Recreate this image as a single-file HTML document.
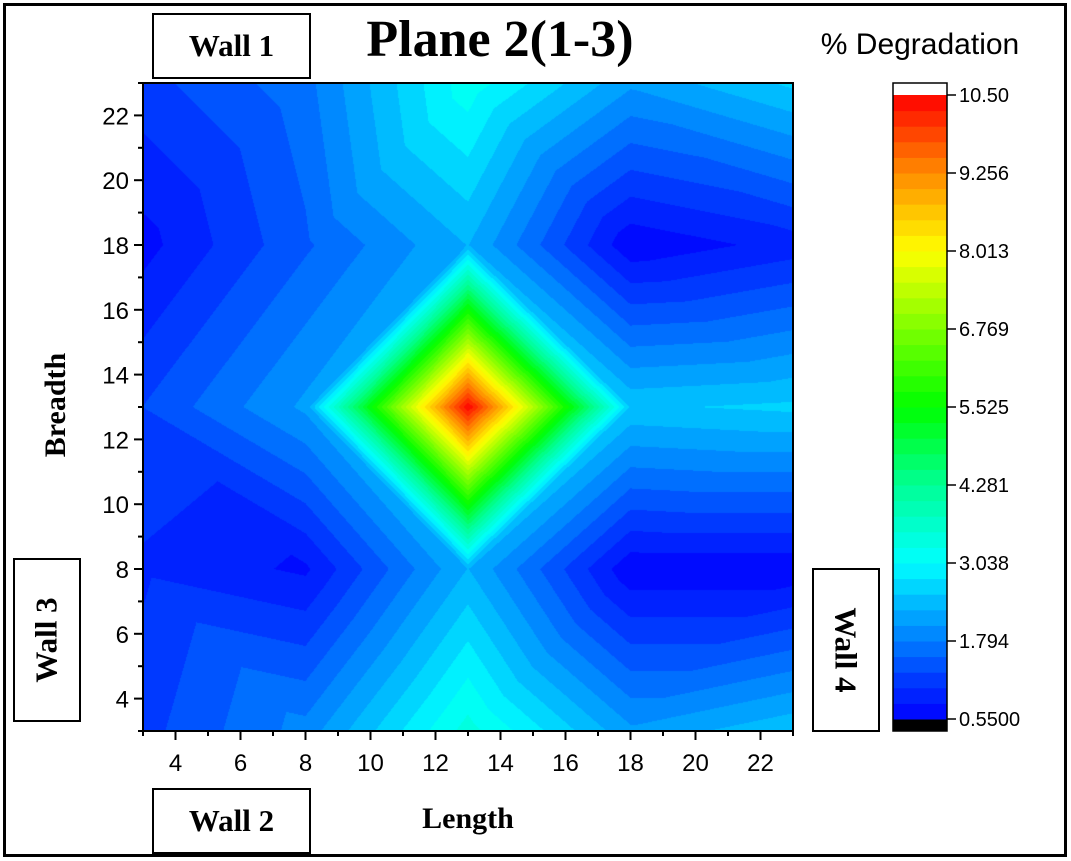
<!DOCTYPE html>
<html><head><meta charset="utf-8"><style>
body{margin:0;background:#fff;width:1071px;height:861px;overflow:hidden;position:relative;font-family:"Liberation Sans",sans-serif}
.abs{position:absolute}
.box{position:absolute;border:2px solid #000;background:#fff;font-family:"Liberation Serif",serif;font-weight:bold;font-size:31px;display:flex;align-items:center;justify-content:center}
</style></head><body>
<div class="abs" style="left:3px;top:3px;width:1058px;height:848px;border:3px solid #000"></div>
<div class="abs" style="left:320px;top:10px;width:360px;text-align:center;font-family:'Liberation Serif',serif;font-weight:bold;font-size:52px">Plane 2(1-3)</div>
<div class="box" style="left:152px;top:13px;width:155px;height:62px">Wall 1</div>
<div class="box" style="left:152px;top:788px;width:155px;height:62px">Wall 2</div>
<div class="box" style="left:13px;top:558px;width:64px;height:160px"><span style="transform:rotate(-90deg);white-space:nowrap">Wall 3</span></div>
<div class="box" style="left:812px;top:568px;width:64px;height:160px"><span style="transform:rotate(90deg);white-space:nowrap">Wall 4</span></div>
<div class="abs" style="left:795px;top:28px;width:250px;text-align:center;font-size:30px">% Degradation</div>
<div class="abs" style="left:368px;top:802px;width:200px;text-align:center;font-family:'Liberation Serif',serif;font-weight:bold;font-size:30px">Length</div>
<div class="abs" style="left:-44px;top:388px;width:200px;text-align:center;font-family:'Liberation Serif',serif;font-weight:bold;font-size:30px;transform:rotate(-90deg)">Breadth</div>
<canvas id="cv" width="650" height="648" class="abs" style="left:143px;top:83px"></canvas>
<svg id="sv" class="abs" style="left:0;top:0" width="1071" height="861"></svg>
<script>
const xs=[3,8,13,18,23];
const ys=[3,8,13,18,23];
const zRow3=[1.2,1.9,3.4,2.1,2.5];
const zRow8=[1.0,0.75,2.3,0.6,0.6];
const zRow13=[1.3,2.1,10.5,2.5,2.6];
const zRow18=[0.7,1.5,2.3,0.6,0.9];
const zRow23=[1.2,1.7,3.2,2.1,2.6];
const Z=[zRow3,zRow8,zRow13,zRow18,zRow23];
const xTicks=[4,6,8,10,12,14,16,18,20,22];
const yTicks=[4,6,8,10,12,14,16,18,20,22];
const cbLabels=["0.5500","1.794","3.038","4.281","5.525","6.769","8.013","9.256","10.50"];
const zMin=0.55,zMax=10.5,nLev=40;
const L=143,R=793,T=83,B=731,X0=3,X1=23,Y0=3,Y1=23;
const sx=v=>L+(v-X0)/(X1-X0)*(R-L);
const sy=v=>B-(v-Y0)/(Y1-Y0)*(B-T);
const stops=[[0.55,[0,0,255]],[1.2,[0,60,255]],[1.794,[0,125,255]],[2.4,[0,185,255]],[3.038,[0,255,255]],[4.281,[0,255,150]],[5.525,[0,255,0]],[6.769,[125,255,0]],[8.013,[255,255,0]],[9.256,[255,140,0]],[10.5,[255,0,0]]];
function cmap(v){for(let i=1;i<stops.length;i++){if(v<=stops[i][0]){const a=stops[i-1],b=stops[i],t=(v-a[0])/(b[0]-a[0]);return a[1].map((c,k)=>Math.round(c+(b[1][k]-c)*t));}}return stops[stops.length-1][1];}
function band(v){let k=Math.floor((v-zMin)/(zMax-zMin)*nLev);k=Math.max(0,Math.min(nLev-1,k));return zMin+(k+0.5)*(zMax-zMin)/nLev;}
function interp(x,y){
 let i=xs.findIndex((v,k)=>k<xs.length-1&&x>=v&&x<=xs[k+1]);
 let j=ys.findIndex((v,k)=>k<ys.length-1&&y>=v&&y<=ys[k+1]);
 if(i<0)i=0;if(j<0)j=0;
 const u=(x-xs[i])/(xs[i+1]-xs[i]),w=(y-ys[j])/(ys[j+1]-ys[j]);
 const a=Z[j][i],b=Z[j][i+1],c=Z[j+1][i],d=Z[j+1][i+1];
 const cx=(xs[i]+xs[i+1])/2<13, cy=(ys[j]+ys[j+1])/2<13;
 const nearIsAorD=(cx&&cy)||(!cx&&!cy);
 if(nearIsAorD){
  if(u+w<=1) return a+(b-a)*u+(c-a)*w;
  return d+(c-d)*(1-u)+(b-d)*(1-w);
 } else {
  if(u>=w) return a+(b-a)*u+(d-b)*w;
  return a+(c-a)*w+(d-c)*u;
 }
}
const cv=document.getElementById('cv'),ctx=cv.getContext('2d');
const img=ctx.createImageData(cv.width,cv.height);
for(let py=0;py<cv.height;py++)for(let px=0;px<cv.width;px++){
 const x=X0+(px+0.5)/cv.width*(X1-X0),y=Y1-(py+0.5)/cv.height*(Y1-Y0);
 const col=cmap(band(interp(x,y)));const o=(py*cv.width+px)*4;
 img.data[o]=col[0];img.data[o+1]=col[1];img.data[o+2]=col[2];img.data[o+3]=255;}
ctx.putImageData(img,0,0);
const sv=document.getElementById('sv'),NS='http://www.w3.org/2000/svg';
function mk(t,a,p){const e=document.createElementNS(NS,t);for(const k in a)e.setAttribute(k,a[k]);(p||sv).appendChild(e);return e;}
let e=mk('rect',{x:L,y:T,width:R-L,height:B-T,fill:'none',stroke:'#000','stroke-width':2});


for(let v=3;v<=23;v++){
 const maj=xTicks.includes(v);
 e=mk('line',{x1:sx(v),x2:sx(v),y1:B,y2:B+(maj?9:5),stroke:'#000','stroke-width':2});
 
 
 e=mk('line',{y1:sy(v),y2:sy(v),x1:L,x2:L-(maj?9:5),stroke:'#000','stroke-width':2});
 
 
}
xTicks.forEach(v=>{e=mk('text',{x:sx(v),y:B+40,'text-anchor':'middle','font-size':24,'font-family':'Liberation Sans'});e.textContent=v;
 
 });
yTicks.forEach(v=>{e=mk('text',{x:L-14,y:sy(v)+9,'text-anchor':'end','font-size':24,'font-family':'Liberation Sans'});e.textContent=v;
 
 });
const CL=893,CR=947,CT=95,CB=719;
mk('rect',{x:CL,y:CT-12,width:CR-CL,height:12,fill:'#fff'});
mk('rect',{x:CL,y:CB,width:CR-CL,height:12,fill:'#000'});
for(let k=0;k<nLev;k++){const v0=zMin+k*(zMax-zMin)/nLev,v1=v0+(zMax-zMin)/nLev;
 const y0=CB-(v1-zMin)/(zMax-zMin)*(CB-CT),y1=CB-(v0-zMin)/(zMax-zMin)*(CB-CT);
 const c=cmap((v0+v1)/2);
 e=mk('rect',{x:CL,y:y0,width:CR-CL,height:y1-y0+0.5,fill:`rgb(${c})`});
 
 }
e=mk('rect',{x:CL,y:CT-12,width:CR-CL,height:CB-CT+24,fill:'none',stroke:'#000','stroke-width':1.5});


cbLabels.forEach((s,k)=>{const y=CB-k/(cbLabels.length-1)*(CB-CT);
 mk('line',{x1:CR,x2:CR+9,y1:y,y2:y,stroke:'#000','stroke-width':1.5});
 e=mk('text',{x:CR+12,y:y+7,'font-size':20,'font-family':'Liberation Sans'});e.textContent=s;
 
 });
</script>
</body></html>
